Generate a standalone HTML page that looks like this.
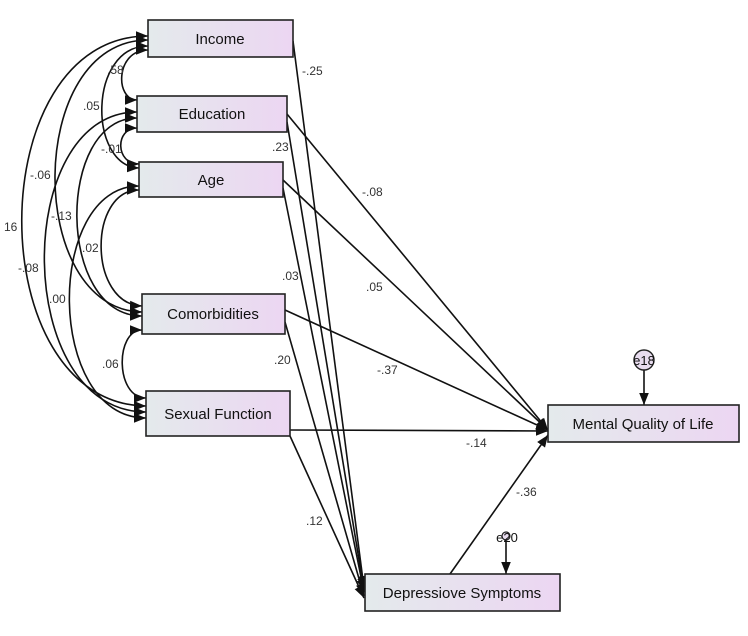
<!DOCTYPE html>
<html><head><meta charset="utf-8"><style>
body{margin:0;background:#fff}
svg{display:block;font-family:"Liberation Sans",Arial,sans-serif}
.b{stroke:#222;stroke-width:1.6}
.l{stroke:#111;stroke-width:1.6;fill:none}
.t{font-size:15px;fill:#111;text-anchor:middle}
.n{font-size:12px;fill:#333}
</style></head><body>
<svg width="748" height="636" viewBox="0 0 748 636">
<defs>
<linearGradient id="g" x1="0" x2="1"><stop offset="0" stop-color="#e4eaec"/><stop offset="1" stop-color="#ecd6f2"/></linearGradient>
<marker id="a" viewBox="0 0 10 10" refX="10" refY="5" markerWidth="12" markerHeight="12" orient="auto-start-reverse" markerUnits="userSpaceOnUse"><path d="M0,1 L10,5 L0,9 z" fill="#111"/></marker>
</defs>
<g class="l" marker-end="url(#a)">
<line x1="287" y1="114" x2="548" y2="430"/>
<line x1="283" y1="180" x2="548" y2="430"/>
<line x1="285" y1="310" x2="548" y2="430"/>
<line x1="290" y1="430" x2="548" y2="431"/>
<line x1="450" y1="574" x2="548" y2="435"/>
<line x1="293" y1="41" x2="364" y2="588"/>
<line x1="287" y1="122" x2="364" y2="590"/>
<line x1="283" y1="188" x2="364" y2="592"/>
<line x1="285" y1="322" x2="364" y2="596"/>
<line x1="290" y1="436" x2="364" y2="598"/>
<line x1="644" y1="370" x2="644" y2="405"/>
<line x1="506" y1="540" x2="506" y2="574"/>
</g>
<g class="l" marker-start="url(#a)" marker-end="url(#a)">
<path d="M148,50 C115,50 115,100 137,100"/>
<path d="M148,46 C88,46 88,166 139,168"/>
<path d="M148,40 C25,40 25,310 142,312"/>
<path d="M148,36 C-20,36 -20,404 146,406"/>
<path d="M137,128 C115,128 115,164 139,164"/>
<path d="M137,118 C56,118 56,316 142,316"/>
<path d="M137,112 C12,112 12,412 146,412"/>
<path d="M139,190 C88,190 88,304 142,306"/>
<path d="M139,186 C45,186 45,418 146,418"/>
<path d="M142,330 C115,330 115,398 146,398"/>
</g>
<g class="b" fill="url(#g)">
<rect x="148" y="20" width="145" height="37"/>
<rect x="137" y="96" width="150" height="36"/>
<rect x="139" y="162" width="144" height="35"/>
<rect x="142" y="294" width="143" height="40"/>
<rect x="146" y="391" width="144" height="45"/>
<rect x="548" y="405" width="191" height="37"/>
<rect x="365" y="574" width="195" height="37"/>
</g>
<circle cx="644" cy="360" r="10" fill="#e8dcef" stroke="#222" stroke-width="1.4"/>
<circle cx="506" cy="536" r="4" fill="#e8dcef" stroke="#222" stroke-width="1.2"/>
<text class="t" x="220" y="44">Income</text>
<text class="t" x="212" y="119">Education</text>
<text class="t" x="211" y="185">Age</text>
<text class="t" x="213" y="319">Comorbidities</text>
<text class="t" x="218" y="419">Sexual Function</text>
<text class="t" x="643" y="429">Mental Quality of Life</text>
<text class="t" x="462" y="598">Depressiove Symptoms</text>
<text class="t" x="644" y="365" style="font-size:13px">e18</text>
<text class="t" x="507" y="542" style="font-size:13px">e20</text>
<g class="n">
<text x="302" y="75">-.25</text>
<text x="272" y="151">.23</text>
<text x="362" y="196">-.08</text>
<text x="282" y="280">.03</text>
<text x="366" y="291">.05</text>
<text x="274" y="364">.20</text>
<text x="377" y="374">-.37</text>
<text x="466" y="447">-.14</text>
<text x="516" y="496">-.36</text>
<text x="306" y="525">.12</text>
<text x="107" y="74">.58</text>
<text x="83" y="110">.05</text>
<text x="101" y="153">-.01</text>
<text x="30" y="179">-.06</text>
<text x="51" y="220">-.13</text>
<text x="4" y="231">16</text>
<text x="82" y="252">.02</text>
<text x="18" y="272">-.08</text>
<text x="49" y="303">.00</text>
<text x="102" y="368">.06</text>
</g>
</svg>
</body></html>
